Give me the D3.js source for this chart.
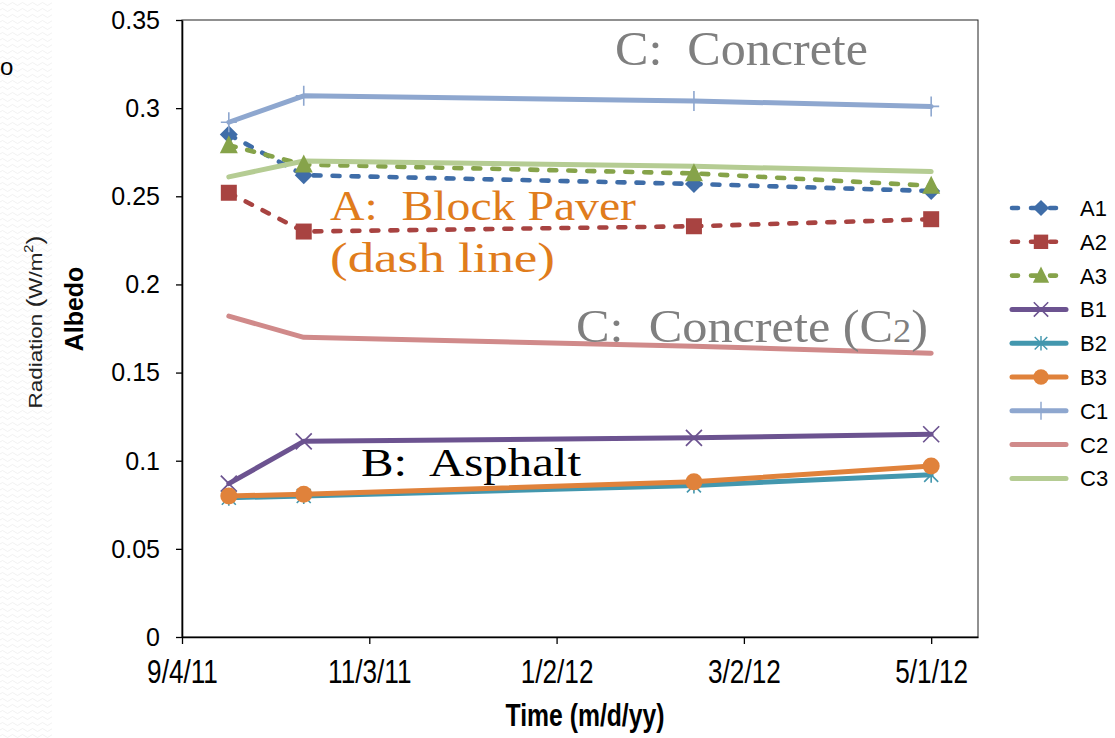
<!DOCTYPE html>
<html>
<head>
<meta charset="utf-8">
<script src="https://cdn.jsdelivr.net/npm/d3@7"></script>
<style>
  body { margin: 0; background: #fff; }
  svg { display: block; }
</style>
</head>
<body>
<div id="chart"></div>
<script>
// measurement dates
const dates = ["2011-09-19", "2011-10-13", "2012-02-15", "2012-05-01"];
const xTicks = ["2011-09-04", "2011-11-03", "2012-01-02", "2012-03-02", "2012-05-01"];
const yTicks = [0, 0.05, 0.1, 0.15, 0.2, 0.25, 0.3, 0.35];

// albedo per site
const A1 = [0.285, 0.262, 0.257, 0.253];
const A2 = [0.252, 0.230, 0.233, 0.237];
const A3 = [0.279, 0.268, 0.263, 0.256];
const B1 = [0.087, 0.111, 0.113, 0.115];
const B2 = [0.079, 0.080, 0.086, 0.092];
const B3 = [0.080, 0.081, 0.088, 0.097];
const C1 = [0.292, 0.307, 0.304, 0.301];
const C2 = [0.182, 0.170, 0.165, 0.161];
const C3 = [0.261, 0.270, 0.267, 0.264];

const seriesNames = ["A1", "A2", "A3", "B1", "B2", "B3", "C1", "C2", "C3"];
const seriesValues = [A1, A2, A3, B1, B2, B3, C1, C2, C3];

const style = {
  A1: { color: "#3f6da8", dash: true, marker: "diamond" },
  A2: { color: "#a84341", dash: true, marker: "square" },
  A3: { color: "#86a34a", dash: true, marker: "triangle" },
  B1: { color: "#6c5390", dash: false, marker: "x" },
  B2: { color: "#4397ae", dash: false, marker: "star" },
  B3: { color: "#e0823b", dash: false, marker: "circle" },
  C1: { color: "#8ea7cf", dash: false, marker: "plus" },
  C2: { color: "#d08a8a", dash: false, marker: null },
  C3: { color: "#b5cc93", dash: false, marker: null }
};

const W = 1115, H = 738;
const margin = { top: 20, right: 137, bottom: 101, left: 182 };
const width = W - margin.left - margin.right;
const height = H - margin.top - margin.bottom;
const parseDate = d3.timeParse("%Y-%m-%d");

const svg = d3.select("#chart").append("svg")
  .attr("width", W).attr("height", H);

// faint wavy strip on the left edge
const defs = svg.append("defs");
const pat = defs.append("pattern").attr("id", "wave")
  .attr("width", 10).attr("height", 6).attr("patternUnits", "userSpaceOnUse");
pat.append("path").attr("d", "M0,4 Q2.5,1 5,4 T10,4")
  .attr("fill", "none").attr("stroke", "#f1f1f1").attr("stroke-width", 1);
svg.append("rect").attr("x", 0).attr("y", 0).attr("width", 52).attr("height", H)
  .attr("fill", "url(#wave)");
svg.append("text").attr("x", 0).attr("y", 75)
  .style("font-family", "Liberation Sans, Arial").style("font-size", "24px").text("o");

const g = svg.append("g").attr("transform", `translate(${margin.left},${margin.top})`);

const x = d3.scaleTime()
  .domain([parseDate("2011-09-04"), parseDate("2012-05-16")])
  .range([0, width]);
const y = d3.scaleLinear().domain([0, 0.35]).range([height, 0]);

// plot frame
g.append("rect").attr("width", width).attr("height", height)
  .attr("fill", "none").attr("stroke", "#222").attr("stroke-width", 1);

const xAxis = g.append("g")
  .attr("transform", `translate(0,${height})`)
  .call(d3.axisBottom(x).tickValues(xTicks.map(parseDate))
    .tickFormat(d3.timeFormat("%-m/%-d/%y")).tickSize(7).tickPadding(12).tickSizeOuter(0));
xAxis.selectAll("text")
  .style("font-family", "Liberation Sans, Arial")
  .style("font-size", "27px").attr("fill", "#000")
  .attr("transform", "scale(0.97,1.2)");

const yAxis = g.append("g")
  .call(d3.axisLeft(y).tickValues(yTicks).tickFormat(d => String(d))
    .tickSize(6).tickPadding(16).tickSizeOuter(0));
yAxis.selectAll("text")
  .style("font-family", "Liberation Sans, Arial")
  .style("font-size", "25px").attr("fill", "#000")
  .attr("transform", "scale(1,1.05)");

[xAxis, yAxis].forEach(ax => {
  ax.select(".domain").attr("stroke", "#000").attr("stroke-width", 1.6);
  ax.selectAll(".tick line").attr("stroke", "#000").attr("stroke-width", 1.3);
});

// marker shapes
function drawMarker(sel, type, color, cx, cy, scale) {
  const s = scale || 1;
  const t = `translate(${cx},${cy}) scale(${s})`;
  if (type === "diamond") {
    sel.append("path").attr("transform", t)
      .attr("d", "M0,-9L9,0L0,9L-9,0Z").attr("fill", color);
  } else if (type === "square") {
    sel.append("path").attr("transform", t)
      .attr("d", "M-8,-8H8V8H-8Z").attr("fill", color);
  } else if (type === "triangle") {
    sel.append("path").attr("transform", t)
      .attr("d", "M0,-10L9,8L-9,8Z").attr("fill", color);
  } else if (type === "circle") {
    sel.append("circle").attr("transform", t).attr("r", 8.5).attr("fill", color);
  } else if (type === "x") {
    sel.append("path").attr("transform", t)
      .attr("d", "M-8,-8L8,8M-8,8L8,-8").attr("stroke", color).attr("stroke-width", 1.7);
  } else if (type === "star") {
    sel.append("path").attr("transform", t)
      .attr("d", "M-7,-7L7,7M-7,7L7,-7M0,-8L0,8").attr("stroke", color).attr("stroke-width", 1.6);
  } else if (type === "plus") {
    sel.append("path").attr("transform", t)
      .attr("d", "M0,-10L0,10M-8,0L8,0").attr("stroke", color).attr("stroke-width", 1.6);
  }
}

const line = d3.line()
  .x((d, i) => x(parseDate(dates[i])))
  .y(d => y(d));

seriesNames.forEach((name, k) => {
  const st = style[name];
  g.append("path")
    .datum(seriesValues[k])
    .attr("fill", "none")
    .attr("stroke", st.color)
    .attr("stroke-width", st.dash ? 4.6 : 5)
    .attr("stroke-linecap", "round")
    .attr("stroke-linejoin", "round")
    .attr("stroke-dasharray", st.dash ? "7,12" : null)
    .attr("d", line);
});
seriesNames.forEach((name, k) => {
  const st = style[name];
  if (!st.marker) return;
  seriesValues[k].forEach((v, i) => {
    drawMarker(g, st.marker, st.color, x(parseDate(dates[i])), y(v));
  });
});

// annotations
const serif = "Liberation Serif, DejaVu Serif, serif";
function note(txt, x0, y0, size, color, len, sub) {
  const t = g.append("text").attr("x", x0 - margin.left).attr("y", y0 - margin.top)
    .attr("textLength", len).attr("lengthAdjust", "spacingAndGlyphs")
    .style("font-family", serif).style("font-size", size + "px")
    .attr("fill", color).attr("xml:space", "preserve");
  t.append("tspan").text(txt);
  if (sub) {
    t.append("tspan").style("font-size", (size * 0.72) + "px").text(sub[0]);
    t.append("tspan").text(sub[1]);
  }
}
note("C:  Concrete", 615, 65, 48, "#7f7f7f", 253);
note("A:  Block Paver", 330, 220, 43, "#e07c1c", 306);
note("(dash line)", 330, 272, 43, "#e07c1c", 225);
note("C:  Concrete (C", 576, 342, 46, "#7f7f7f", 352, ["2", ")"]);
note("B:  Asphalt", 361, 476, 40, "#000", 220);

// axis titles
svg.append("text")
  .attr("transform", "translate(585,726) scale(0.97,1.22)").attr("text-anchor", "middle")
  .style("font-family", "Liberation Sans, Arial")
  .style("font-weight", "bold").style("font-size", "25.5px").text("Time (m/d/yy)");

svg.append("text")
  .attr("transform", "translate(83,309) rotate(-90)").attr("text-anchor", "middle")
  .style("font-family", "Liberation Sans, Arial")
  .style("font-weight", "bold").style("font-size", "25px").text("Albedo");

const rad = svg.append("text")
  .attr("transform", "translate(42,322) rotate(-90) scale(1.12,0.92)").attr("text-anchor", "middle")
  .style("font-family", "Liberation Sans, Arial")
  .style("font-size", "20px").attr("fill", "#222");
rad.append("tspan").text("Radiation ");
rad.append("tspan").style("font-size", "24px").text("(");
rad.append("tspan").text("W/m");
rad.append("tspan").attr("dy", -10).style("font-size", "13px").text("2");
rad.append("tspan").attr("dy", 10).style("font-size", "24px").text(")");

// legend
const legend = svg.append("g");
seriesNames.forEach((name, k) => {
  const st = style[name];
  const ly = 208 + k * 33.8;
  legend.append("line")
    .attr("x1", 1012).attr("x2", 1066).attr("y1", ly).attr("y2", ly)
    .attr("stroke", st.color).attr("stroke-width", st.dash ? 4.6 : 5)
    .attr("stroke-linecap", "round")
    .attr("stroke-dasharray", st.dash ? "6,13" : null);
  if (st.marker) drawMarker(legend, st.marker, st.color, 1041, ly, 0.9);
  legend.append("text").attr("x", 1080).attr("y", ly + 8)
    .style("font-family", "Liberation Sans, Arial").style("font-size", "22px")
    .text(name);
});
</script>
</body>
</html>
